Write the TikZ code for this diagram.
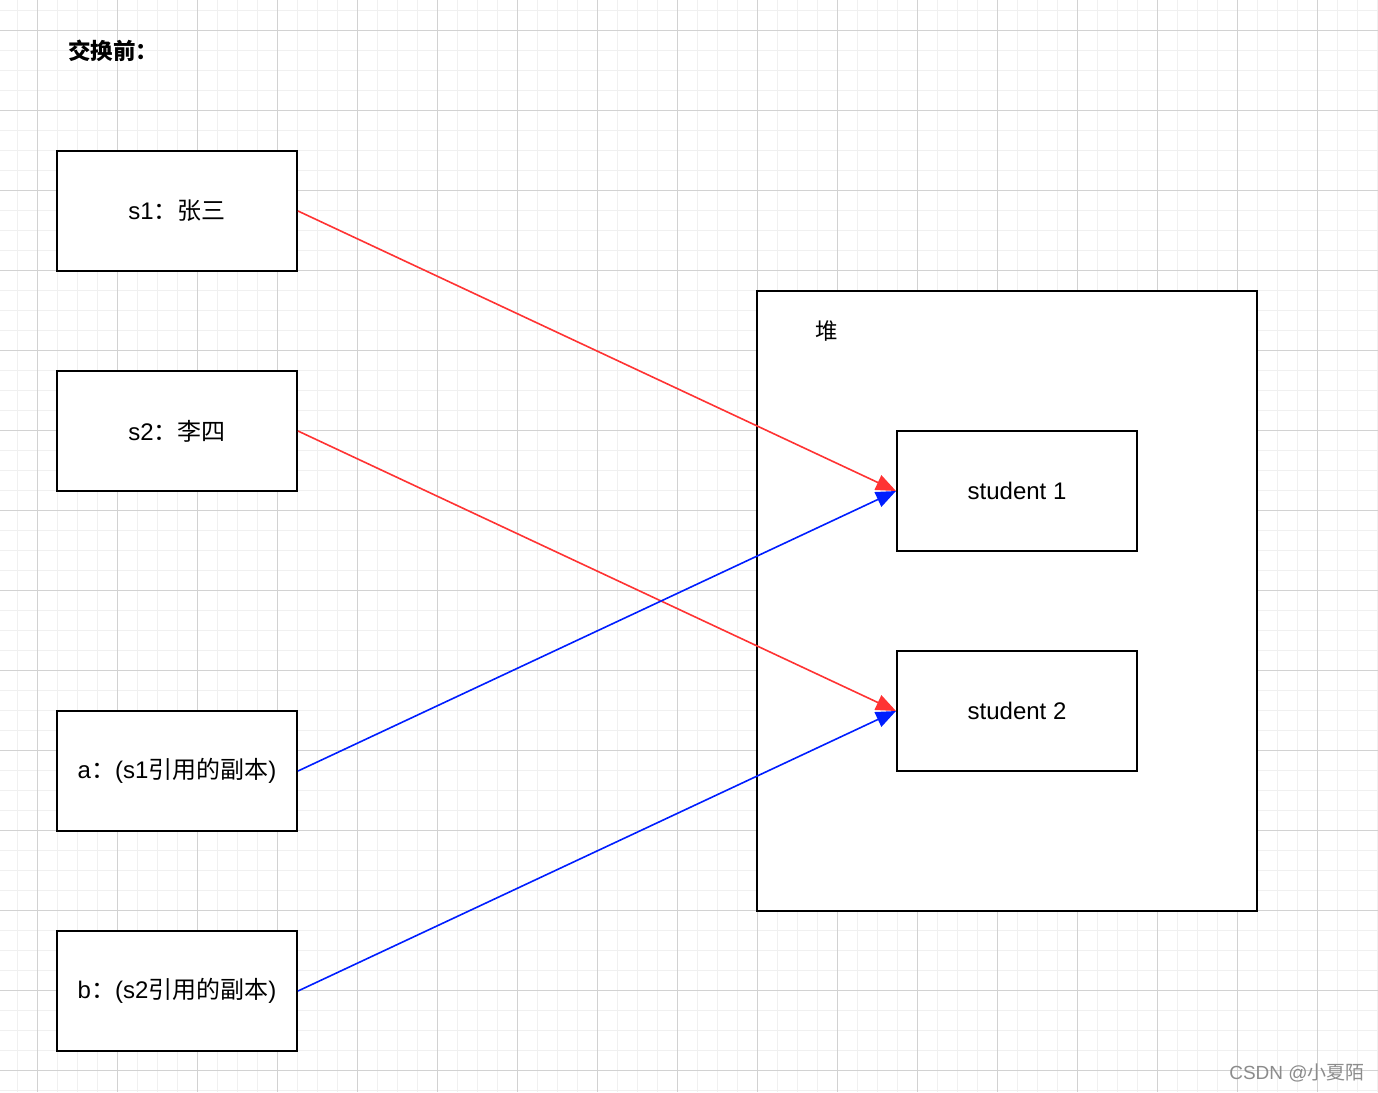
\documentclass[tikz,border=0pt]{standalone}
\usepackage{fontspec}
\setmainfont{Liberation Sans}
\newfontfamily\cjk{Noto Sans CJK SC}
\usetikzlibrary{arrows.meta}
\definecolor{minorgrid}{RGB}{240,240,240}
\definecolor{majorgrid}{RGB}{210,210,210}
\definecolor{arrred}{RGB}{255,51,51}
\definecolor{arrblue}{RGB}{0,30,255}
\begin{document}
\begin{tikzpicture}[x=1pt,y=-1pt,
  box/.style={draw=black,line width=2pt,fill=white,minimum width=240pt,minimum height=120pt,inner sep=0pt,font=\fontsize{24}{28}\selectfont},
  conn/.style={line width=1.6pt,-{Triangle[length=20pt,width=16pt]}},
  lbl/.style={inner sep=0pt,font=\fontsize{22.5}{26}\selectfont}]
\useasboundingbox (0,0) rectangle (1378,1092);
\fill[white] (0,0) rectangle (1378,1092);
% grid
\foreach \k in {0,...,68} {\draw[minorgrid,line width=1pt] (17+20*\k,0) -- (17+20*\k,1092);}
\foreach \k in {0,...,54} {\draw[minorgrid,line width=1pt] (0,10+20*\k) -- (1378,10+20*\k);}
\foreach \k in {0,...,16} {\draw[majorgrid,line width=1pt] (37+80*\k,0) -- (37+80*\k,1092);}
\foreach \k in {0,...,13} {\draw[majorgrid,line width=1pt] (0,30+80*\k) -- (1378,30+80*\k);}
% title
\node[lbl,anchor=west] (title) at (68,51) {\cjk\bfseries 交换前：};
% heap
\node[box,minimum width=500pt,minimum height=620pt] (heap) at (1007,601) {};
\node[lbl] (heaplbl) at (827,331) {\cjk 堆};
% left boxes
\node[box] (s1) at (177,211) {s1{\cjk ：张三}};
\node[box] (s2) at (177,431) {s2{\cjk ：李四}};
\node[box] (a) at (177,771) {a{\cjk ：}(s1{\cjk 引用的副本})};
\node[box] (b) at (177,991) {b{\cjk ：}(s2{\cjk 引用的副本})};
% students
\node[box] (st1) at (1017,491) {student 1};
\node[box] (st2) at (1017,711) {student 2};
% connectors
\draw[conn,arrred] (s1.east) -- (st1.west);
\draw[conn,arrred] (s2.east) -- (st2.west);
\draw[conn,arrblue] (a.east) -- (st1.west);
\draw[conn,arrblue] (b.east) -- (st2.west);
% watermark
\node[inner sep=0pt,text=black!45,font=\fontsize{19}{22}\selectfont] (wm) at (1297,1073) {CSDN @{\cjk 小夏陌}};
\end{tikzpicture}
\end{document}
